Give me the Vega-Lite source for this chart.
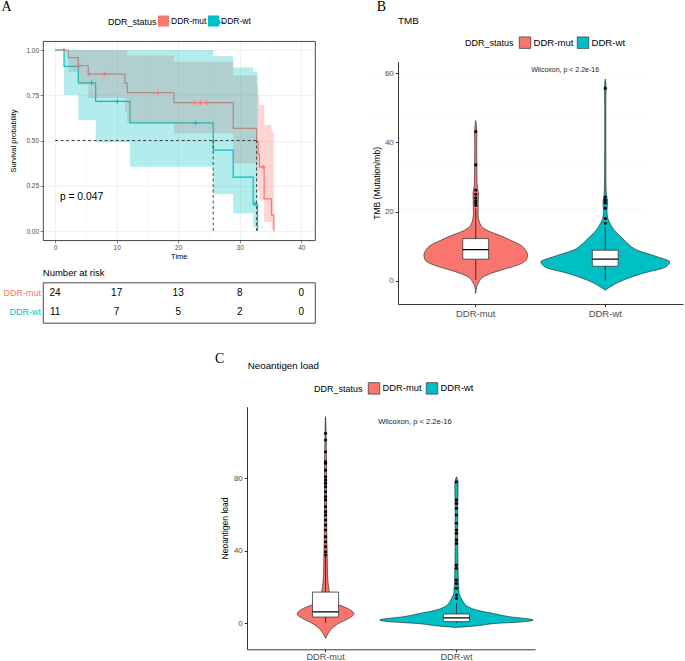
{
"$schema":"https://vega.github.io/schema/vega-lite/v6.json",
"width":685,"height":661,"autosize":{"type":"none"},"padding":0,"background":"white",
"config":{"view":{"stroke":null},"font":"Liberation Sans"},
"datasets":{
"one":[{}],
"groups":[{"group":"DDR-mut"},{"group":"DDR-wt"}],
"km":[
{"group":"DDR-mut","t":0,"surv":1},{"group":"DDR-mut","t":2.14,"surv":0.958},{"group":"DDR-mut","t":3.77,"surv":0.913},{"group":"DDR-mut","t":5.39,"surv":0.867},{"group":"DDR-mut","t":11.35,"surv":0.816},{"group":"DDR-mut","t":11.72,"surv":0.764},{"group":"DDR-mut","t":19.3,"surv":0.709},{"group":"DDR-mut","t":28.94,"surv":0.567},{"group":"DDR-mut","t":32.74,"surv":0.496},{"group":"DDR-mut","t":33.0,"surv":0.425},{"group":"DDR-mut","t":33.2,"surv":0.354},{"group":"DDR-mut","t":33.97,"surv":0.177},{"group":"DDR-mut","t":35.17,"surv":0.089},{"group":"DDR-mut","t":35.55,"surv":0},
{"group":"DDR-wt","t":0,"surv":1},{"group":"DDR-wt","t":1.45,"surv":0.909},{"group":"DDR-wt","t":3.77,"surv":0.818},{"group":"DDR-wt","t":6.59,"surv":0.716},{"group":"DDR-wt","t":12.16,"surv":0.597},{"group":"DDR-wt","t":25.69,"surv":0.447},{"group":"DDR-wt","t":28.94,"surv":0.298},{"group":"DDR-wt","t":32.19,"surv":0.149},{"group":"DDR-wt","t":32.9,"surv":0}
],
"band":[
{"group":"DDR-mut","t":0,"lo":1,"hi":1},{"group":"DDR-mut","t":2.14,"lo":0.877,"hi":1},{"group":"DDR-mut","t":3.77,"lo":0.81,"hi":1},{"group":"DDR-mut","t":5.39,"lo":0.735,"hi":1},{"group":"DDR-mut","t":11.35,"lo":0.66,"hi":1},{"group":"DDR-mut","t":11.72,"lo":0.6,"hi":0.97},{"group":"DDR-mut","t":19.3,"lo":0.54,"hi":0.935},{"group":"DDR-mut","t":28.94,"lo":0.374,"hi":0.86},{"group":"DDR-mut","t":32.74,"lo":0.28,"hi":0.807},{"group":"DDR-mut","t":33.0,"lo":0.22,"hi":0.75},{"group":"DDR-mut","t":33.2,"lo":0.17,"hi":0.696},{"group":"DDR-mut","t":33.97,"lo":0.05,"hi":0.586},{"group":"DDR-mut","t":35.17,"lo":0.01,"hi":0.549},{"group":"DDR-mut","t":35.55,"lo":0.01,"hi":0.549},
{"group":"DDR-wt","t":0,"lo":1,"hi":1},{"group":"DDR-wt","t":1.45,"lo":0.751,"hi":1},{"group":"DDR-wt","t":3.77,"lo":0.613,"hi":1},{"group":"DDR-wt","t":6.59,"lo":0.49,"hi":1},{"group":"DDR-wt","t":12.16,"lo":0.355,"hi":1},{"group":"DDR-wt","t":25.69,"lo":0.204,"hi":0.967},{"group":"DDR-wt","t":28.94,"lo":0.098,"hi":0.904},{"group":"DDR-wt","t":32.19,"lo":0.02,"hi":0.877},{"group":"DDR-wt","t":32.9,"lo":0.02,"hi":0.877}
],
"censor":[
{"group":"DDR-mut","t":1.43,"surv":1},{"group":"DDR-mut","t":3.87,"surv":0.913},{"group":"DDR-mut","t":5.55,"surv":0.867},{"group":"DDR-mut","t":8.0,"surv":0.867},{"group":"DDR-mut","t":16.7,"surv":0.764},{"group":"DDR-mut","t":22.6,"surv":0.709},{"group":"DDR-mut","t":23.6,"surv":0.709},{"group":"DDR-mut","t":24.6,"surv":0.709},{"group":"DDR-mut","t":33.8,"surv":0.354},
{"group":"DDR-wt","t":5.9,"surv":0.818},{"group":"DDR-wt","t":10.1,"surv":0.716},{"group":"DDR-wt","t":22.8,"surv":0.597},{"group":"DDR-wt","t":32.5,"surv":0.149}
],
"medLines":[
{"seg":"h","t":0,"surv":0.5},{"seg":"h","t":32.74,"surv":0.5},
{"seg":"wt","t":25.69,"surv":0},{"seg":"wt","t":25.69,"surv":0.5},
{"seg":"mut","t":32.74,"surv":0},{"seg":"mut","t":32.74,"surv":0.5}
],
"risk":[
{"group":"DDR-mut","t":0,"n":24},{"group":"DDR-mut","t":10,"n":17},{"group":"DDR-mut","t":20,"n":13},{"group":"DDR-mut","t":30,"n":8},{"group":"DDR-mut","t":40,"n":0},
{"group":"DDR-wt","t":0,"n":11},{"group":"DDR-wt","t":10,"n":7},{"group":"DDR-wt","t":20,"n":5},{"group":"DDR-wt","t":30,"n":2},{"group":"DDR-wt","t":40,"n":0}
],
"violinB":[
{"group":"DDR-mut","value":-3.65,"width":0},{"group":"DDR-mut","value":-1.7,"width":0.015},{"group":"DDR-mut","value":-0.3,"width":0.05},{"group":"DDR-mut","value":1.15,"width":0.118},{"group":"DDR-mut","value":2.1,"width":0.232},{"group":"DDR-mut","value":3.07,"width":0.386},{"group":"DDR-mut","value":4.03,"width":0.566},{"group":"DDR-mut","value":5.0,"width":0.705},{"group":"DDR-mut","value":6.0,"width":0.78},{"group":"DDR-mut","value":7.4,"width":0.8},{"group":"DDR-mut","value":8.84,"width":0.772},{"group":"DDR-mut","value":10.3,"width":0.695},{"group":"DDR-mut","value":11.7,"width":0.54},{"group":"DDR-mut","value":13.2,"width":0.36},{"group":"DDR-mut","value":14.1,"width":0.232},{"group":"DDR-mut","value":15.1,"width":0.128},{"group":"DDR-mut","value":16.5,"width":0.067},{"group":"DDR-mut","value":19.4,"width":0.036},{"group":"DDR-mut","value":23.2,"width":0.04},{"group":"DDR-mut","value":25.2,"width":0.042},{"group":"DDR-mut","value":28,"width":0.02},{"group":"DDR-mut","value":33,"width":0.018},{"group":"DDR-mut","value":38.6,"width":0.015},{"group":"DDR-mut","value":42.5,"width":0.018},{"group":"DDR-mut","value":46.3,"width":0},
{"group":"DDR-wt","value":-2.7,"width":0},{"group":"DDR-wt","value":-1.7,"width":0.08},{"group":"DDR-wt","value":0.2,"width":0.28},{"group":"DDR-wt","value":2.1,"width":0.57},{"group":"DDR-wt","value":4.0,"width":0.93},{"group":"DDR-wt","value":5.5,"width":0.994},{"group":"DDR-wt","value":6.9,"width":0.81},{"group":"DDR-wt","value":8.8,"width":0.5},{"group":"DDR-wt","value":10.8,"width":0.345},{"group":"DDR-wt","value":12.7,"width":0.242},{"group":"DDR-wt","value":14.6,"width":0.14},{"group":"DDR-wt","value":16.5,"width":0.077},{"group":"DDR-wt","value":18,"width":0.04},{"group":"DDR-wt","value":20,"width":0.026},{"group":"DDR-wt","value":23,"width":0.036},{"group":"DDR-wt","value":25,"width":0.016},{"group":"DDR-wt","value":30,"width":0.01},{"group":"DDR-wt","value":40,"width":0.009},{"group":"DDR-wt","value":50,"width":0.009},{"group":"DDR-wt","value":56,"width":0.012},{"group":"DDR-wt","value":58.3,"width":0}
],
"boxB":[{"group":"DDR-mut","lo":0.3,"q1":6.25,"med":9.0,"q3":12.2,"hi":21.0},{"group":"DDR-wt","lo":0,"q1":4.2,"med":6.25,"q3":8.85,"hi":15.7}],
"outB":[
{"group":"DDR-mut","value":21.8},{"group":"DDR-mut","value":22.5},{"group":"DDR-mut","value":23.2},{"group":"DDR-mut","value":24.0},{"group":"DDR-mut","value":25.0},{"group":"DDR-mut","value":26.2},{"group":"DDR-mut","value":33.5},{"group":"DDR-mut","value":43.1},
{"group":"DDR-wt","value":16.6},{"group":"DDR-wt","value":18.0},{"group":"DDR-wt","value":21.0},{"group":"DDR-wt","value":22.5},{"group":"DDR-wt","value":23.3},{"group":"DDR-wt","value":24.2},{"group":"DDR-wt","value":55.6}
],
"violinC":[
{"group":"DDR-mut","value":-8.5,"width":0},{"group":"DDR-mut","value":-5.7,"width":0.04},{"group":"DDR-mut","value":-2.9,"width":0.1},{"group":"DDR-mut","value":-0.2,"width":0.2},{"group":"DDR-mut","value":2.6,"width":0.356},{"group":"DDR-mut","value":5.0,"width":0.432},{"group":"DDR-mut","value":7.2,"width":0.382},{"group":"DDR-mut","value":9.0,"width":0.28},{"group":"DDR-mut","value":10.9,"width":0.152},{"group":"DDR-mut","value":12.7,"width":0.092},{"group":"DDR-mut","value":16.4,"width":0.062},{"group":"DDR-mut","value":20,"width":0.046},{"group":"DDR-mut","value":27.4,"width":0.03},{"group":"DDR-mut","value":36.6,"width":0.026},{"group":"DDR-mut","value":45.9,"width":0.02},{"group":"DDR-mut","value":64,"width":0.016},{"group":"DDR-mut","value":82.7,"width":0.016},{"group":"DDR-mut","value":101,"width":0.01},{"group":"DDR-mut","value":110,"width":0.006},{"group":"DDR-mut","value":114,"width":0},
{"group":"DDR-wt","value":-2.4,"width":0},{"group":"DDR-wt","value":-1.7,"width":0.254},{"group":"DDR-wt","value":-0.2,"width":0.612},{"group":"DDR-wt","value":0.7,"width":1.02},{"group":"DDR-wt","value":1.7,"width":1.172},{"group":"DDR-wt","value":3.5,"width":0.814},{"group":"DDR-wt","value":5.3,"width":0.56},{"group":"DDR-wt","value":7.2,"width":0.306},{"group":"DDR-wt","value":9.0,"width":0.178},{"group":"DDR-wt","value":11.8,"width":0.102},{"group":"DDR-wt","value":13.6,"width":0.076},{"group":"DDR-wt","value":16.4,"width":0.04},{"group":"DDR-wt","value":27.4,"width":0.026},{"group":"DDR-wt","value":45.9,"width":0.02},{"group":"DDR-wt","value":64,"width":0.02},{"group":"DDR-wt","value":77,"width":0.026},{"group":"DDR-wt","value":80.8,"width":0}
],
"boxC":[{"group":"DDR-mut","lo":0,"q1":3.3,"med":6.2,"q3":17.1,"hi":37},{"group":"DDR-wt","lo":0,"q1":0.8,"med":2.9,"q3":5.0,"hi":11}],
"outC":[
{"group":"DDR-mut","value":37.6},{"group":"DDR-mut","value":39.4},{"group":"DDR-mut","value":42.2},{"group":"DDR-mut","value":44.9},{"group":"DDR-mut","value":47.7},{"group":"DDR-mut","value":51.4},{"group":"DDR-mut","value":54.1},{"group":"DDR-mut","value":56.9},{"group":"DDR-mut","value":59.7},{"group":"DDR-mut","value":61.5},{"group":"DDR-mut","value":64.3},{"group":"DDR-mut","value":68.0},{"group":"DDR-mut","value":69.8},{"group":"DDR-mut","value":72.5},{"group":"DDR-mut","value":75.3},{"group":"DDR-mut","value":77.2},{"group":"DDR-mut","value":79.0},{"group":"DDR-mut","value":80.8},{"group":"DDR-mut","value":84.5},{"group":"DDR-mut","value":88.2},{"group":"DDR-mut","value":89.1},{"group":"DDR-mut","value":94.6},{"group":"DDR-mut","value":101.1},{"group":"DDR-mut","value":104.8},
{"group":"DDR-wt","value":13.6},{"group":"DDR-wt","value":15.5},{"group":"DDR-wt","value":19.2},{"group":"DDR-wt","value":21.9},{"group":"DDR-wt","value":23.8},{"group":"DDR-wt","value":30.2},{"group":"DDR-wt","value":32.0},{"group":"DDR-wt","value":44.0},{"group":"DDR-wt","value":45.9},{"group":"DDR-wt","value":49.6},{"group":"DDR-wt","value":51.4},{"group":"DDR-wt","value":55.1},{"group":"DDR-wt","value":59.7},{"group":"DDR-wt","value":63.4},{"group":"DDR-wt","value":66.1},{"group":"DDR-wt","value":68.0},{"group":"DDR-wt","value":78.0}
]
},
"layer":[
 {"data":{"name":"km"},"mark":{"type":"line","interpolate":"step-after","strokeWidth":1.2},"encoding":{
   "x":{"field":"t","type":"quantitative","scale":{"domain":[-2,42.2],"range":[42.8,314.8],"nice":false,"zero":false},"axis":{"orient":"bottom","offset":-420.95,"values":[0,10,20,30,40],"title":"Time","titleFontSize":7.5,"titleFontWeight":"normal","titleColor":"#000","titlePadding":2,"domain":true,"domainColor":"#333","domainWidth":0.9,"tickColor":"#333","tickSize":2.7,"tickWidth":0.6,"labelFontSize":6.5,"labelColor":"#4d4d4d","labelPadding":1.5,"grid":false,"labelFlush":false}},
   "y":{"field":"surv","type":"quantitative","scale":{"domain":[-0.05,1.05],"range":[240.05,40.95],"nice":false,"zero":false},"axis":{"orient":"left","offset":-42.8,"values":[0,0.25,0.5,0.75,1],"format":".2f","title":"Survival probability","titleFontSize":7.5,"titleFontWeight":"normal","titleColor":"#000","titlePadding":8,"domain":true,"domainColor":"#333","domainWidth":0.9,"tickColor":"#333","tickSize":2.7,"tickWidth":0.6,"labelFontSize":6.5,"labelColor":"#4d4d4d","labelPadding":1.5,"grid":true,"gridColor":"#ebebeb","gridWidth":0.7}},
   "stroke":{"field":"group","type":"nominal","scale":{"domain":["DDR-mut","DDR-wt"],"range":["#F8766D","#00BFC4"]},"legend":{"orient":"none","legendX":157.5,"legendY":15.5,"direction":"horizontal","title":null,"labelExpr":"''","labelOffset":0,"columnPadding":38.4,"symbolType":"M-1,0H1M0,-0.4V0.4","symbolSize":121,"symbolStrokeWidth":1.2,"padding":0}}}},
 {"data":{"name":"band"},"mark":{"type":"area","interpolate":"step-after","fillOpacity":0.3},"encoding":{
   "x":{"field":"t","type":"quantitative","scale":{"domain":[-2,42.2],"range":[42.8,314.8],"nice":false,"zero":false},"axis":{"orient":"top","offset":-40.95,"values":[5,15,25,35],"title":null,"labels":false,"ticks":false,"domain":true,"domainColor":"#333","domainWidth":0.9,"grid":true,"gridColor":"#f1f1f1","gridWidth":0.45}},
   "y":{"field":"hi","type":"quantitative","scale":{"domain":[-0.05,1.05],"range":[240.05,40.95],"nice":false,"zero":false},"axis":{"orient":"right","offset":-370.2,"values":[0.125,0.375,0.625,0.875],"title":null,"labels":false,"ticks":false,"domain":true,"domainColor":"#333","domainWidth":0.9,"grid":true,"gridColor":"#f1f1f1","gridWidth":0.45}},
   "y2":{"field":"lo"},
   "fill":{"field":"group","type":"nominal","scale":{"domain":["DDR-mut","DDR-wt"],"range":["#F8766D","#00BFC4"]},"legend":{"orient":"none","legendX":108,"legendY":15.5,"direction":"horizontal","title":"DDR_status","titleOrient":"left","titleFontSize":9,"titleFontWeight":"normal","titleColor":"#000","titlePadding":1,"labelFontSize":8.5,"labelColor":"#000","labelOffset":2,"columnPadding":1,"symbolType":"square","symbolSize":121,"symbolStrokeWidth":0,"padding":0}}}},
 {"data":{"name":"censor"},"mark":{"type":"point","shape":"M-1,0H1M0,-1V1","filled":false,"size":22,"strokeWidth":1,"opacity":1},"encoding":{
   "x":{"field":"t","type":"quantitative","scale":{"domain":[-2,42.2],"range":[42.8,314.8],"nice":false,"zero":false},"axis":{"orient":"top","offset":-40.95,"values":[0,10,20,30,40],"title":null,"labels":false,"ticks":false,"domain":false,"grid":true,"gridColor":"#ebebeb","gridWidth":0.7}},
   "y":{"field":"surv","type":"quantitative","scale":{"domain":[-0.05,1.05],"range":[240.05,40.95],"nice":false,"zero":false},"axis":null},
   "stroke":{"field":"group","type":"nominal","scale":{"domain":["DDR-mut","DDR-wt"],"range":["#F8766D","#00BFC4"]},"legend":null}}},
 {"data":{"name":"medLines"},"mark":{"type":"line","strokeDash":[3,2.5],"color":"#333","strokeWidth":0.9},"encoding":{
   "x":{"field":"t","type":"quantitative","scale":{"domain":[-2,42.2],"range":[42.8,314.8],"nice":false,"zero":false},"axis":null},
   "y":{"field":"surv","type":"quantitative","scale":{"domain":[-0.05,1.05],"range":[240.05,40.95],"nice":false,"zero":false},"axis":null},
   "detail":{"field":"seg","type":"nominal"}}},
 {"data":{"name":"one"},"mark":{"type":"text","align":"left","baseline":"middle","fontSize":10.3,"color":"#000"},"encoding":{
   "x":{"datum":0.78,"type":"quantitative","scale":{"domain":[-2,42.2],"range":[42.8,314.8],"nice":false,"zero":false},"axis":null},
   "y":{"datum":0.19,"type":"quantitative","scale":{"domain":[-0.05,1.05],"range":[240.05,40.95],"nice":false,"zero":false},"axis":null},
   "text":{"value":"p = 0.047"}}},
 {"data":{"name":"one"},"mark":{"type":"text","align":"left","baseline":"middle","fontSize":14,"font":"Liberation Serif","color":"#000"},"encoding":{
   "x":{"datum":-8.7,"type":"quantitative","scale":{"domain":[-2,42.2],"range":[42.8,314.8],"nice":false,"zero":false},"axis":null},
   "y":{"datum":1.235,"type":"quantitative","scale":{"domain":[-0.05,1.05],"range":[240.05,40.95],"nice":false,"zero":false},"axis":null},
   "text":{"value":"A"}}},

 {"data":{"name":"one"},"mark":{"type":"text","align":"left","baseline":"middle","fontSize":9.5,"color":"#000"},"encoding":{
   "x":{"datum":-2,"type":"quantitative","scale":{"domain":[-2,42.2],"range":[42.8,314.8],"nice":false,"zero":false},"axis":null},
   "y":{"datum":-0.238,"type":"quantitative","scale":{"domain":[0,1],"range":[282.3,322.7],"nice":false,"zero":false},"axis":null},
   "text":{"value":"Number at risk"}}},
 {"data":{"name":"risk"},"mark":{"type":"text","fontSize":10,"color":"#000","baseline":"middle","align":"center"},"encoding":{
   "x":{"field":"t","type":"quantitative","scale":{"domain":[-2,42.2],"range":[42.8,314.8],"nice":false,"zero":false},"axis":{"orient":"bottom","offset":-338.3,"title":null,"labels":false,"ticks":false,"domain":true,"domainColor":"#333","domainWidth":0.9,"grid":false}},
   "y":{"field":"group","type":"nominal","scale":{"type":"point","domain":["DDR-mut","DDR-wt"],"range":[282.3,322.7],"padding":0.6},"axis":{"orient":"left","offset":-42.8,"title":null,"labels":false,"ticks":false,"domain":true,"domainColor":"#333","domainWidth":0.9,"grid":false}},
   "text":{"field":"n","type":"quantitative"}}},
 {"data":{"name":"groups"},"mark":{"type":"text","fontSize":9,"baseline":"middle","align":"right"},"encoding":{
   "x":{"datum":-2.3,"type":"quantitative","scale":{"domain":[-2,42.2],"range":[42.8,314.8],"nice":false,"zero":false},"axis":{"orient":"top","offset":-282.3,"title":null,"labels":false,"ticks":false,"domain":true,"domainColor":"#333","domainWidth":0.9,"grid":false}},
   "y":{"field":"group","type":"nominal","scale":{"type":"point","domain":["DDR-mut","DDR-wt"],"range":[282.3,322.7],"padding":0.6},"axis":{"orient":"right","offset":-370.2,"title":null,"labels":false,"ticks":false,"domain":true,"domainColor":"#333","domainWidth":0.9,"grid":false}},
   "color":{"field":"group","type":"nominal","scale":{"domain":["DDR-mut","DDR-wt"],"range":["#F8766D","#00BFC4"]},"legend":null},
   "text":{"field":"group","type":"nominal"}}},

 {"data":{"name":"violinB"},"transform":[{"filter":"datum.group === 'DDR-mut'"}],"mark":{"type":"area","orient":"horizontal","interpolate":"monotone","stroke":"#1a1a1a","strokeWidth":0.6},"encoding":{
    "y":{"field":"value","type":"quantitative","scale":{"domain":[-6.7,63.3],"range":[304,61.7],"nice":false,"zero":false},"axis":{"orient":"left","offset":-398,"values":[0,20,40,60],"title":"TMB (Mutation/mb)","titleFontSize":8.5,"titleFontWeight":"normal","titleColor":"#000","titlePadding":3,"domainColor":"#000","domainWidth":0.8,"tickColor":"#000","tickWidth":0.8,"tickSize":2.7,"labelFontSize":8,"labelColor":"#4d4d4d","labelPadding":2,"grid":false}},
    "x":{"field":"width","type":"quantitative","stack":"center","scale":{"domain":[-0.2,2.0],"range":[398,683],"nice":false,"zero":false},"axis":null},
    "color":{"field":"group","type":"nominal","scale":{"domain":["DDR-mut","DDR-wt"],"range":["#F8766D","#00BFC4"]},"legend":{"orient":"none","legendX":465,"legendY":36,"direction":"horizontal","title":"DDR_status","titleOrient":"left","titleFontSize":9,"titleFontWeight":"normal","titleColor":"#000","titlePadding":4.5,"labelFontSize":9.6,"labelColor":"#000","labelOffset":2,"columnPadding":2,"symbolType":"square","symbolSize":132,"symbolStrokeColor":"#333","symbolStrokeWidth":0.7,"padding":0}}}},
 {"data":{"name":"violinB"},"transform":[{"filter":"datum.group === 'DDR-wt'"}],"mark":{"type":"area","orient":"horizontal","interpolate":"monotone","stroke":"#1a1a1a","strokeWidth":0.6},"encoding":{
    "y":{"field":"value","type":"quantitative","scale":{"domain":[-6.7,63.3],"range":[304,61.7],"nice":false,"zero":false},"axis":null},
    "x":{"field":"width","type":"quantitative","stack":"center","scale":{"domain":[-1.103,1.097],"range":[398,683],"nice":false,"zero":false},"axis":null},
    "color":{"field":"group","type":"nominal","scale":{"domain":["DDR-mut","DDR-wt"],"range":["#F8766D","#00BFC4"]},"legend":null}}},
 {"data":{"name":"one"},"mark":{"type":"text","align":"center","baseline":"middle","fontSize":7,"color":"#1a1a1a"},"encoding":{"x":{"datum":0.69,"type":"quantitative","scale":{"domain":[-0.6,1.6],"range":[398,683],"nice":false,"zero":false},"axis":null},"y":{"datum":60.9,"type":"quantitative","scale":{"domain":[-6.7,63.3],"range":[304,61.7],"nice":false,"zero":false},"axis":null},"text":{"value":"Wilcoxon, p < 2.2e-16"}}},
 {"data":{"name":"one"},"mark":{"type":"text","align":"left","baseline":"middle","fontSize":9.8,"color":"#000"},"encoding":{"x":{"datum":-0.6,"type":"quantitative","scale":{"domain":[-0.6,1.6],"range":[398,683],"nice":false,"zero":false},"axis":null},"y":{"datum":75.15,"type":"quantitative","scale":{"domain":[-6.7,63.3],"range":[304,61.7],"nice":false,"zero":false},"axis":null},"text":{"value":"TMB"}}},
 {"data":{"name":"one"},"mark":{"type":"text","align":"left","baseline":"middle","fontSize":14,"font":"Liberation Serif","color":"#000"},"encoding":{"x":{"datum":-0.764,"type":"quantitative","scale":{"domain":[-0.6,1.6],"range":[398,683],"nice":false,"zero":false},"axis":null},"y":{"datum":79.2,"type":"quantitative","scale":{"domain":[-6.7,63.3],"range":[304,61.7],"nice":false,"zero":false},"axis":null},"text":{"value":"B"}}},
 {"data":{"name":"boxB"},"mark":{"type":"rule","color":"#1a1a1a","strokeWidth":0.8},"encoding":{
    "x":{"field":"group","type":"nominal","scale":{"type":"band","domain":["DDR-mut","DDR-wt"],"range":[398,683],"paddingInner":0.8,"paddingOuter":0.5},"axis":{"orient":"bottom","offset":-357,"title":null,"labelAngle":0,"domainColor":"#000","domainWidth":0.8,"tickColor":"#000","tickWidth":0.8,"tickSize":2.7,"labelFontSize":9.5,"labelColor":"#4d4d4d","labelPadding":2,"grid":false}},
    "y":{"field":"lo","type":"quantitative","scale":{"domain":[-6.7,63.3],"range":[304,61.7],"nice":false,"zero":false},"axis":null},"y2":{"field":"hi"}}},
 {"data":{"name":"boxB"},"mark":{"type":"rect","fill":"white","stroke":"#333","strokeWidth":0.8},"encoding":{
    "x":{"field":"group","type":"nominal","scale":{"type":"band","domain":["DDR-mut","DDR-wt"],"range":[398,683],"paddingInner":0.8,"paddingOuter":0.5},"axis":null},
    "y":{"field":"q1","type":"quantitative","scale":{"domain":[-6.7,63.3],"range":[304,61.7],"nice":false,"zero":false},"axis":null},"y2":{"field":"q3"}}},
 {"data":{"name":"boxB"},"mark":{"type":"rect","fill":"#000","stroke":"#000","strokeWidth":1.3},"encoding":{
    "x":{"field":"group","type":"nominal","scale":{"type":"band","domain":["DDR-mut","DDR-wt"],"range":[398,683],"paddingInner":0.8,"paddingOuter":0.5},"axis":null},
    "y":{"field":"med","type":"quantitative","scale":{"domain":[-6.7,63.3],"range":[304,61.7],"nice":false,"zero":false},"axis":null},"y2":{"field":"med"}}},
 {"data":{"name":"outB"},"mark":{"type":"point","filled":true,"color":"#000","size":10,"opacity":1},"encoding":{
    "x":{"field":"group","type":"nominal","scale":{"type":"band","domain":["DDR-mut","DDR-wt"],"range":[398,683],"paddingInner":0.8,"paddingOuter":0.5},"axis":null},
    "y":{"field":"value","type":"quantitative","scale":{"domain":[-6.7,63.3],"range":[304,61.7],"nice":false,"zero":false},"axis":null}}},

 {"data":{"name":"violinC"},"transform":[{"filter":"datum.group === 'DDR-mut'"}],"mark":{"type":"area","orient":"horizontal","interpolate":"monotone","stroke":"#1a1a1a","strokeWidth":0.6},"encoding":{
    "y":{"field":"value","type":"quantitative","scale":{"domain":[-14.5,119.5],"range":[649.3,406.7],"nice":false,"zero":false},"axis":{"orient":"left","offset":-247,"values":[0,40,80],"title":"Neoantigen load","titleFontSize":8.5,"titleFontWeight":"normal","titleColor":"#000","titlePadding":4,"domainColor":"#000","domainWidth":0.8,"tickColor":"#000","tickWidth":0.8,"tickSize":2.7,"labelFontSize":8,"labelColor":"#4d4d4d","labelPadding":2,"grid":false}},
    "x":{"field":"width","type":"quantitative","stack":"center","scale":{"domain":[-0.384,1.816],"range":[247,535],"nice":false,"zero":false},"axis":null},
    "color":{"field":"group","type":"nominal","scale":{"domain":["DDR-mut","DDR-wt"],"range":["#F8766D","#00BFC4"]},"legend":{"orient":"none","legendX":314,"legendY":381.7,"direction":"horizontal","title":"DDR_status","titleOrient":"left","titleFontSize":9,"titleFontWeight":"normal","titleColor":"#000","titlePadding":4.5,"labelFontSize":9.4,"labelColor":"#000","labelOffset":2,"columnPadding":2,"symbolType":"square","symbolSize":132,"symbolStrokeColor":"#333","symbolStrokeWidth":0.7,"padding":0}}}},
 {"data":{"name":"violinC"},"transform":[{"filter":"datum.group === 'DDR-wt'"}],"mark":{"type":"area","orient":"horizontal","interpolate":"monotone","stroke":"#1a1a1a","strokeWidth":0.6},"encoding":{
    "y":{"field":"value","type":"quantitative","scale":{"domain":[-14.5,119.5],"range":[649.3,406.7],"nice":false,"zero":false},"axis":null},
    "x":{"field":"width","type":"quantitative","stack":"center","scale":{"domain":[-1.014,1.186],"range":[247,535],"nice":false,"zero":false},"axis":null},
    "color":{"field":"group","type":"nominal","scale":{"domain":["DDR-mut","DDR-wt"],"range":["#F8766D","#00BFC4"]},"legend":null}}},
 {"data":{"name":"one"},"mark":{"type":"text","align":"center","baseline":"middle","fontSize":7.6,"color":"#1a1a1a"},"encoding":{"x":{"datum":0.683,"type":"quantitative","scale":{"domain":[-0.6,1.6],"range":[247,535],"nice":false,"zero":false},"axis":null},"y":{"datum":111.2,"type":"quantitative","scale":{"domain":[-14.5,119.5],"range":[649.3,406.7],"nice":false,"zero":false},"axis":null},"text":{"value":"Wilcoxon, p < 2.2e-16"}}},
 {"data":{"name":"one"},"mark":{"type":"text","align":"left","baseline":"middle","fontSize":9.8,"color":"#000"},"encoding":{"x":{"datum":-0.595,"type":"quantitative","scale":{"domain":[-0.6,1.6],"range":[247,535],"nice":false,"zero":false},"axis":null},"y":{"datum":142.15,"type":"quantitative","scale":{"domain":[-14.5,119.5],"range":[649.3,406.7],"nice":false,"zero":false},"axis":null},"text":{"value":"Neoantigen load"}}},
 {"data":{"name":"one"},"mark":{"type":"text","align":"left","baseline":"middle","fontSize":14,"font":"Liberation Serif","color":"#000"},"encoding":{"x":{"datum":-0.844,"type":"quantitative","scale":{"domain":[-0.6,1.6],"range":[247,535],"nice":false,"zero":false},"axis":null},"y":{"datum":146.1,"type":"quantitative","scale":{"domain":[-14.5,119.5],"range":[649.3,406.7],"nice":false,"zero":false},"axis":null},"text":{"value":"C"}}},
 {"data":{"name":"boxC"},"mark":{"type":"rule","color":"#1a1a1a","strokeWidth":0.8},"encoding":{
    "x":{"field":"group","type":"nominal","scale":{"type":"band","domain":["DDR-mut","DDR-wt"],"range":[247,535],"paddingInner":0.8,"paddingOuter":0.5},"axis":{"orient":"bottom","offset":-11.7,"title":null,"labelAngle":0,"domainColor":"#000","domainWidth":0.8,"tickColor":"#000","tickWidth":0.8,"tickSize":2.7,"labelFontSize":9.2,"labelColor":"#4d4d4d","labelPadding":0.5,"grid":false}},
    "y":{"field":"lo","type":"quantitative","scale":{"domain":[-14.5,119.5],"range":[649.3,406.7],"nice":false,"zero":false},"axis":null},"y2":{"field":"hi"}}},
 {"data":{"name":"boxC"},"mark":{"type":"rect","fill":"white","stroke":"#333","strokeWidth":0.8},"encoding":{
    "x":{"field":"group","type":"nominal","scale":{"type":"band","domain":["DDR-mut","DDR-wt"],"range":[247,535],"paddingInner":0.8,"paddingOuter":0.5},"axis":null},
    "y":{"field":"q1","type":"quantitative","scale":{"domain":[-14.5,119.5],"range":[649.3,406.7],"nice":false,"zero":false},"axis":null},"y2":{"field":"q3"}}},
 {"data":{"name":"boxC"},"mark":{"type":"rect","fill":"#000","stroke":"#000","strokeWidth":1.3},"encoding":{
    "x":{"field":"group","type":"nominal","scale":{"type":"band","domain":["DDR-mut","DDR-wt"],"range":[247,535],"paddingInner":0.8,"paddingOuter":0.5},"axis":null},
    "y":{"field":"med","type":"quantitative","scale":{"domain":[-14.5,119.5],"range":[649.3,406.7],"nice":false,"zero":false},"axis":null},"y2":{"field":"med"}}},
 {"data":{"name":"outC"},"mark":{"type":"point","filled":true,"color":"#000","size":10,"opacity":1},"encoding":{
    "x":{"field":"group","type":"nominal","scale":{"type":"band","domain":["DDR-mut","DDR-wt"],"range":[247,535],"paddingInner":0.8,"paddingOuter":0.5},"axis":null},
    "y":{"field":"value","type":"quantitative","scale":{"domain":[-14.5,119.5],"range":[649.3,406.7],"nice":false,"zero":false},"axis":null}}}
],
"resolve":{"scale":{"x":"independent","y":"independent","color":"independent","fill":"independent","stroke":"independent"},"axis":{"x":"independent","y":"independent"},"legend":{"color":"independent","fill":"independent","stroke":"independent"}}
}
